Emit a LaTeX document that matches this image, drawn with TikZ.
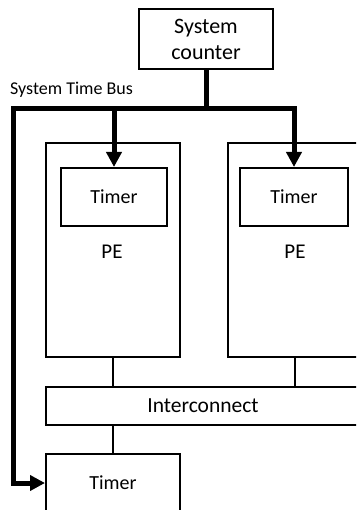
\documentclass[tikz,border=0pt]{standalone}
\usepackage{fontspec}
\setmainfont{Carlito}
\usetikzlibrary{arrows.meta}
\begin{document}
\begin{tikzpicture}[x=1pt,y=-1pt,
  box/.style={draw=black,line width=2pt,inner sep=0pt,minimum width=134pt,font=\fontsize{20}{26}\selectfont},
  txt/.style={inner sep=0pt,font=\fontsize{21}{26}\selectfont},
  bus/.style={line width=5pt,line join=miter,-{Triangle[length=15pt,width=15pt]}},
  busline/.style={line width=5pt,line join=miter},
  thin/.style={line width=1.2pt}]
\useasboundingbox (0,0) rectangle (356,510);
\clip (0,0) rectangle (356,510);
\fill[white] (0,0) rectangle (356,510);
\node[box,minimum height=60pt,align=center,font=\fontsize{22}{26}\selectfont] (counter) at (206,39) {System\\counter};
\node[box,minimum height=214pt] (pe1) at (113,250) {};
\node[box,minimum height=214pt] (pe2) at (295,250) {};
\node[box,minimum width=106pt,minimum height=58pt] (t1) at (114,197) {Timer};
\node[box,minimum width=108pt,minimum height=58pt] (t2) at (294,197) {Timer};
\node[txt] (pel1) at (112,252) {PE};
\node[txt] (pel2) at (295,252) {PE};
\node[box,minimum width=314pt,minimum height=38pt,font=\fontsize{21.5}{26}\selectfont] (ic) at (203,406) {Interconnect};
\node[box,minimum height=58pt] (bt) at (113,483) {Timer};
\node[inner sep=0pt,anchor=base west,font=\fontsize{18}{20}\selectfont] (lbl) at (10,95) {System Time Bus};
\coordinate (j) at (206,109);
\coordinate (lc) at (13,109);
\draw[busline] (counter.south) -- (j);
\draw[bus] (j) -| (t1.north);
\draw[bus] (j) -| (t2.north);
\draw[bus] (j) -- (lc) |- (bt.west);
\draw[thin] (pe1.south) -- (pe1.south |- ic.north);
\draw[thin] (pe2.south) -- (pe2.south |- ic.north);
\draw[thin] (ic.south -| bt.north) -- (bt.north);
\end{tikzpicture}
\end{document}
